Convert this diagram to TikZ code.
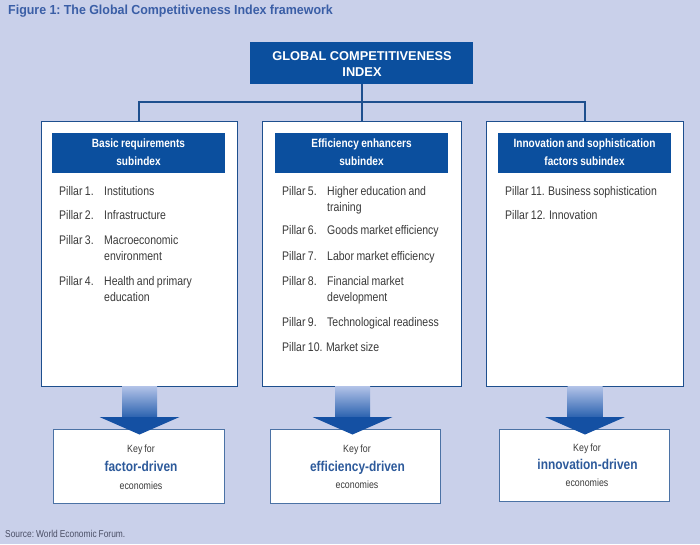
\documentclass[tikz,border=0pt]{standalone}
\usepackage{fontspec}
\setmainfont{Liberation Sans}
\newfontfamily\narrow[FakeStretch=0.84,WordSpace=0.84]{Liberation Sans}
\newfontfamily\titlef[FakeStretch=0.95,WordSpace=0.95]{Liberation Sans}
\definecolor{bg}{HTML}{C9D0EA}
\definecolor{dkblue}{HTML}{0B4F9E}
\definecolor{lineblue}{HTML}{1E4F8E}
\definecolor{titleblue}{HTML}{3A5EA6}
\definecolor{keyblue}{HTML}{2D5A9B}
\definecolor{ptext}{HTML}{3A3A3A}
\definecolor{srctext}{HTML}{4A4E65}
\definecolor{shaftlight}{HTML}{B3C3E8}
\definecolor{shaftdark}{HTML}{2860AE}
\definecolor{headblue}{HTML}{1450A3}
\tikzset{
  conn/.style={draw=lineblue, line width=2pt},
  bigbox/.style={draw=lineblue, line width=0.9pt, fill=white, inner sep=0pt},
  hdrbox/.style={fill=dkblue, inner sep=0pt},
  keybox/.style={draw=lineblue!80, line width=0.7pt, fill=white, inner sep=0pt},
  hdrtxt/.style={text=white, inner sep=0pt, anchor=base, font=\narrow\bfseries\fontsize{12}{14}\selectfont},
  pil/.style={text=ptext, inner sep=0pt, anchor=base west, font=\narrow\fontsize{12.5}{15}\selectfont},
  keysmall/.style={text=ptext, inner sep=0pt, anchor=base, font=\narrow\fontsize{10.5}{12}\selectfont},
  keybig/.style={text=keyblue, inner sep=0pt, anchor=base, font=\narrow\bfseries\fontsize{14.2}{16}\selectfont},
  shaft/.style={top color=shaftlight, bottom color=shaftdark, draw=none},
  ahead/.style={fill=headblue, draw=none},
}
\begin{document}
\begin{tikzpicture}[x=1pt,y=-1pt]
\useasboundingbox (0,0) rectangle (700,544);
\fill[bg] (0,0) rectangle (700,544);

% title
\node[titleblue, inner sep=0pt, anchor=base west, font=\titlef\bfseries\fontsize{13.1}{15}\selectfont\frenchspacing] (title) at (8,14) {Figure 1: The Global Competitiveness Index framework};

% top box
\node[hdrbox, minimum width=223pt, minimum height=42pt] (gci) at (361.5,63) {};
\node[text=white, inner sep=0pt, anchor=base, font=\bfseries\fontsize{12.8}{15}\selectfont] (gci1) at (362,60) {GLOBAL COMPETITIVENESS};
\node[text=white, inner sep=0pt, anchor=base, font=\bfseries\fontsize{12.8}{15}\selectfont] (gci2) at (362,76) {INDEX};

% subindex boxes
\node[bigbox, minimum width=196pt, minimum height=265pt] (b1) at (139,253.5) {};
\node[bigbox, minimum width=199pt, minimum height=265pt] (b2) at (361.5,253.5) {};
\node[bigbox, minimum width=197pt, minimum height=265pt] (b3) at (584.5,253.5) {};

% connectors
\coordinate (hbar) at (361.5,102);
\draw[conn] (gci.south) -- (b2.north);
\draw[conn] (b1.north) |- (hbar) -| (b3.north);

% headers
\node[hdrbox, minimum width=173pt, minimum height=40pt] (h1) at (138.5,153) {};
\node[hdrbox, minimum width=173pt, minimum height=40pt] (h2) at (361.5,153) {};
\node[hdrbox, minimum width=173pt, minimum height=40pt] (h3) at (584.5,153) {};
\node[hdrtxt] (h1a) at (138.5,147.5) {Basic requirements};
\node[hdrtxt] (h1b) at (138.5,165) {subindex};
\node[hdrtxt] (h2a) at (361.5,147.5) {Efficiency enhancers};
\node[hdrtxt] (h2b) at (361.5,165) {subindex};
\node[hdrtxt] (h3a) at (584.5,147.5) {Innovation and sophistication};
\node[hdrtxt] (h3b) at (584.5,165) {factors subindex};

% left pillars
\node[pil] (p1) at (59,195.5) {Pillar 1.};
\node[pil] (p1t) at (104,195.5) {Institutions};
\node[pil] (p2) at (59,219.5) {Pillar 2.};
\node[pil] (p2t) at (104,219.5) {Infrastructure};
\node[pil] (p3) at (59,244) {Pillar 3.};
\node[pil] (p3t) at (104,244) {Macroeconomic};
\node[pil] (p3u) at (104,260.5) {environment};
\node[pil] (p4) at (59,285.5) {Pillar 4.};
\node[pil] (p4t) at (104,285.5) {Health and primary};
\node[pil] (p4u) at (104,301.5) {education};

% middle pillars
\node[pil] (p5) at (282,195) {Pillar 5.};
\node[pil] (p5t) at (327,195) {Higher education and};
\node[pil] (p5u) at (327,211) {training};
\node[pil] (p6) at (282,234.5) {Pillar 6.};
\node[pil] (p6t) at (327,234.5) {Goods market efficiency};
\node[pil] (p7) at (282,260.5) {Pillar 7.};
\node[pil] (p7t) at (327,260.5) {Labor market efficiency};
\node[pil] (p8) at (282,285.5) {Pillar 8.};
\node[pil] (p8t) at (327,285.5) {Financial market};
\node[pil] (p8u) at (327,301) {development};
\node[pil] (p9) at (282,326) {Pillar 9.};
\node[pil] (p9t) at (327,326) {Technological readiness};
\node[pil] (p10) at (282,351) {Pillar 10. Market size};

% right pillars
\node[pil] (p11) at (505,195) {Pillar 11. Business sophistication};
\node[pil] (p12) at (505,219.5) {Pillar 12. Innovation};

% key boxes
\node[keybox, minimum width=171pt, minimum height=74pt] (k1) at (138.5,466) {};
\node[keybox, minimum width=170pt, minimum height=74pt] (k2) at (355,466) {};
\node[keybox, minimum width=170pt, minimum height=72pt] (k3) at (584,465) {};

\node[keysmall] (k1a) at (141,452) {Key for};
\node[keybig] (k1b) at (141,471.5) {factor-driven};
\node[keysmall] (k1c) at (141,489) {economies};
\node[keysmall] (k2a) at (357,452.5) {Key for};
\node[keybig] (k2b) at (357.5,471.5) {efficiency-driven};
\node[keysmall] (k2c) at (357,488) {economies};
\node[keysmall] (k3a) at (587,451) {Key for};
\node[keybig] (k3b) at (587.5,469) {innovation-driven};
\node[keysmall] (k3c) at (587,486) {economies};

% arrows
\foreach \cx in {139.5,352.5,585}{
  \path[shaft] (\cx-17.5,386) rectangle (\cx+17.5,418);
  \path[ahead] (\cx-40,417) -- (\cx+40,417) -- (\cx,434.5) -- cycle;
}

% source
\node[srctext, inner sep=0pt, anchor=base west, font=\narrow\fontsize{10}{12}\selectfont\frenchspacing] (src) at (5,537) {Source: World Economic Forum.};
\end{tikzpicture}
\end{document}
